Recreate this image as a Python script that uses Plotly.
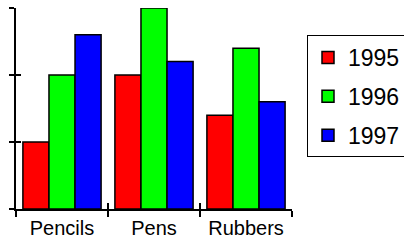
import plotly.graph_objects as go

categories = ["Pencils", "Pens", "Rubbers"]
years = ["1995", "1996", "1997"]
values_1995 = [1.0, 2.0, 1.4]
values_1996 = [2.0, 3.0, 2.4]
values_1997 = [2.6, 2.2, 1.6]
colors = ["#FF0000", "#00FF00", "#0000FF"]
y_ticks = [0, 1, 2, 3]

series = [values_1995, values_1996, values_1997]

fig = go.Figure()
for i, (name, vals, col) in enumerate(zip(years, series, colors)):
    fig.add_trace(go.Bar(
        x=categories, y=vals, name=name, legendgroup=name,
        marker=dict(color=col, line=dict(color="black", width=1.5)),
    ))

axis_font = dict(family="Liberation Sans, Arial, sans-serif", size=20, color="black")

fig.update_layout(
    width=404, height=243,
    margin=dict(l=16, r=112, t=8, b=34, autoexpand=False),
    paper_bgcolor="white", plot_bgcolor="white",
    barmode="group", bargap=0.15, bargroupgap=0,
    showlegend=True,
    legend=dict(
        xref="container", yref="container",
        x=307 / 404, xanchor="left", y=1 - 35 / 243, yanchor="top",
        bordercolor="black", borderwidth=1,
        font=dict(family="Liberation Sans, Arial, sans-serif", size=23, color="black"),
        traceorder="grouped", tracegroupgap=6,
        bgcolor="white",
    ),
    xaxis=dict(
        type="category", range=[-0.5, 2.5], tickson="boundaries",
        ticks="outside", ticklen=6, tickwidth=1.5, tickcolor="black",
        showline=True, linecolor="black", linewidth=1.5,
        showgrid=False, zeroline=False, tickfont=axis_font,
        fixedrange=True, automargin=False,
    ),
    xaxis2=dict(
        overlaying="x", anchor="y", side="bottom",
        range=[-0.5, 2.5], tickvals=[-0.5, 0.5, 1.5, 2.5],
        ticks="inside", ticklen=6, tickwidth=1.5, tickcolor="black",
        showticklabels=False, showline=False, showgrid=False, zeroline=False,
        automargin=False,
    ),
    yaxis=dict(
        range=[0, 3], tickvals=y_ticks,
        ticks="outside", ticklen=5, tickwidth=1.5, tickcolor="black",
        showticklabels=False, showline=True, linecolor="black", linewidth=1.5,
        showgrid=False, zeroline=False, automargin=False,
    ),
    yaxis2=dict(
        overlaying="y", anchor="x", side="left",
        range=[0, 3], tickvals=y_ticks,
        ticks="inside", ticklen=5, tickwidth=1.5, tickcolor="black",
        showticklabels=False, showline=False, showgrid=False, zeroline=False,
        automargin=False,
    ),
)

# invisible helper trace so the overlay axes are drawn
fig.add_trace(go.Scatter(x=[0], y=[0], xaxis="x2", yaxis="y2", mode="markers",
                         marker=dict(opacity=0), showlegend=False, hoverinfo="skip"))

fig.write_html("out.html", config={"displayModeBar": False},
               post_script="document.body.style.margin='0';")
